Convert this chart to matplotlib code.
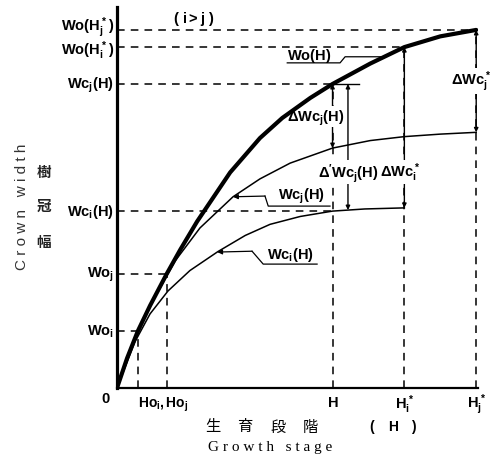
import matplotlib.pyplot as plt
import numpy as np

plt.rcParams['mathtext.fontset'] = 'custom'
plt.rcParams['mathtext.rm'] = 'Liberation Sans:bold'
plt.rcParams['mathtext.it'] = 'Liberation Sans:bold'
plt.rcParams['mathtext.bf'] = 'Liberation Sans:bold'
plt.rcParams['font.family'] = ['Liberation Sans', 'Noto Sans CJK JP', 'DejaVu Sans']

# crown width of the whole stand, Wo(H)
wo_x = [0, 2.8, 5.8, 9.2, 13.8, 17.6, 22.3, 31.5, 39.8, 46, 53.8, 60, 70.5, 80, 90, 100]
wo_y = [0, 8.3, 15.9, 23.0, 31.8, 38.6, 46.5, 60.2, 69.8, 75.4, 81.0, 84.9, 90.6, 95.2, 98.2, 100]

# crown width of species j, Wcj(H)
wcj_x = [0, 4.6, 9.2, 16.2, 23.1, 32.3, 39.8, 48.2, 60, 70.5, 80, 90, 100]
wcj_y = [0, 12.6, 22.9, 35.5, 44.7, 53.4, 58.4, 62.8, 67.0, 69.1, 70.2, 70.9, 71.4]

# crown width of species i, Wci(H)
wci_x = [0, 5, 9.2, 14.2, 20.3, 28.1, 35.7, 42.6, 51, 60, 69, 80]
wci_y = [0, 12.9, 20.7, 27.1, 32.8, 38.1, 42.6, 45.7, 47.9, 49.4, 50.0, 50.3]

# marked growth stages
h_oi, h_oj, h_now, h_i, h_j = 5.8, 13.8, 60, 80, 100
# marked crown widths
w_oi, w_oj, w_ci, w_cj, w_o_hi, w_o_hj = 15.9, 31.8, 49.4, 84.9, 95.2, 100

fig = plt.figure(figsize=(4.91, 4.60), dpi=100)
ax = fig.add_axes([117/491, 71/460, 361/491, 381/460])
ax.set_xlim(0, 100.5)
ax.set_ylim(0, 106.4)
for s in ['top', 'right']:
    ax.spines[s].set_visible(False)
ax.spines['left'].set_linewidth(2.3)
ax.spines['bottom'].set_linewidth(1.6)
ax.set_xticks([])
ax.set_yticks([])

# dashed guide lines
dash = dict(color='k', lw=1.1, dashes=(5, 4), zorder=1)
ax.plot([0, h_j], [w_o_hj, w_o_hj], **dash)
ax.plot([0, h_i], [w_o_hi, w_o_hi], **dash)
ax.plot([0, h_now], [w_cj, w_cj], **dash)
ax.plot([0, h_now], [w_ci, w_ci], **dash)
ax.plot([0, h_oj], [w_oj, w_oj], **dash)
ax.plot([0, h_oi], [w_oi, w_oi], **dash)
ax.plot([h_oi, h_oi], [0, w_oi], **dash)
ax.plot([h_oj, h_oj], [0, w_oj], **dash)
ax.plot([h_now, h_now], [0, w_cj], **dash)
ax.plot([h_i, h_i], [0, w_o_hi], **dash)
ax.plot([h_j, h_j], [0, w_o_hj], **dash)

# the three growth curves
ax.plot(wo_x, wo_y, color='k', lw=3.0, solid_capstyle='round', zorder=5)
ax.plot(wcj_x, wcj_y, color='k', lw=1.1, zorder=4)
ax.plot(wci_x, wci_y, color='k', lw=1.1, zorder=4)


def dim_arrow(x, y0, y1):
    ax.annotate('', xy=(x, y1), xytext=(x, y0), zorder=3,
                arrowprops=dict(arrowstyle='<|-|>', color='k', lw=1.0,
                                mutation_scale=6, shrinkA=0, shrinkB=0))


x2 = 64.3
dim_arrow(h_now, w_cj, np.interp(h_now, wcj_x, wcj_y))
dim_arrow(x2, w_cj, np.interp(x2, wci_x, wci_y))
dim_arrow(h_i, w_o_hi, wci_y[-1])
dim_arrow(h_j, w_o_hj, wcj_y[-1])
ax.plot([h_now, 67.5], [w_cj, w_cj], color='k', lw=1.0, zorder=3)

box = dict(facecolor='white', edgecolor='none', pad=0.6)
fs = 10.5

# labels on the W axis
left = [(w_o_hj + 0.9, r'$Wo(H_j^*)$'), (w_o_hi - 0.6, r'$Wo(H_i^*)$'), (w_cj, r'$Wc_j(H)$'),
        (w_ci, r'$Wc_i(H)$'), (w_oj, r'$Wo_j$'), (w_oi, r'$Wo_i$')]
for y, s in left:
    ax.text(-0.8, y, s, ha='right', va='center', fontsize=fs, clip_on=False)

# labels on the H axis
ax.text(-3.3, -2.8, '0', ha='center', va='center', fontsize=fs, weight='bold', clip_on=False)
ax.text(12.8, -4.3, r'$Ho_i,Ho_j$', ha='center', va='center', fontsize=fs - 0.5, clip_on=False)
ax.text(h_now, -4.0, r'$H$', ha='center', va='center', fontsize=fs, clip_on=False)
ax.text(h_i, -4.3, r'$H_i^*$', ha='center', va='center', fontsize=fs, clip_on=False)
ax.text(h_j, -4.3, r'$H_j^*$', ha='center', va='center', fontsize=fs, clip_on=False)

ax.text(21.4, 103.4, r'$(\ i>j\ )$', ha='center', va='center', fontsize=fs)

# Wo(H) label with leader to the thick curve
ax.text(47.4, 93.0, r'$Wo(H)$', ha='left', va='center', fontsize=fs, zorder=6)
ly = 92.5
ax.plot([47.4, 62.1, 63.5, np.interp(ly, wo_y, wo_x)], [90.8, 90.8, ly, ly],
        color='k', lw=0.9, zorder=6)

# difference labels
ax.text(55.4, 75.7, r'$\Delta Wc_j(H)$', ha='center', va='center', fontsize=fs,
        bbox=box, zorder=4)
ax.text(64.3, 60.3, r"$\Delta' Wc_j(H)$", ha='center', va='center', fontsize=fs,
        bbox=box, zorder=4)
ax.text(78.8, 60.3, r'$\Delta Wc_i^*$', ha='center', va='center', fontsize=fs,
        bbox=box, zorder=4)
ax.text(98.6, 85.8, r'$\Delta Wc_j^*$', ha='center', va='center', fontsize=fs,
        bbox=box, zorder=4, clip_on=False)

# Wcj(H) label, underlined, arrow to the middle curve
ax.text(51.3, 53.8, r'$Wc_j(H)$', ha='center', va='center', fontsize=fs, zorder=6)
ax.plot([59.3, 42.1, 41.2], [50.8, 50.8, 53.6], color='k', lw=0.9, zorder=6)
ax.annotate('', xy=(32.3, np.interp(32.3, wcj_x, wcj_y)), xytext=(41.2, 53.6),
            arrowprops=dict(arrowstyle='-|>', color='k', lw=0.9, mutation_scale=7,
                            shrinkA=0, shrinkB=0), zorder=6)

# Wci(H) label, underlined, arrow to the lower curve
ax.text(48.2, 37.3, r'$Wc_i(H)$', ha='center', va='center', fontsize=fs, zorder=6)
ax.plot([55.7, 40.7, 37.6], [34.6, 34.6, 38.2], color='k', lw=0.9, zorder=6)
ax.annotate('', xy=(27.9, np.interp(27.9, wci_x, wci_y)), xytext=(37.6, 38.2),
            arrowprops=dict(arrowstyle='-|>', color='k', lw=0.9, mutation_scale=7,
                            shrinkA=0, shrinkB=0), zorder=6)

# axis titles
W, Hh = 491, 460
for ch, px in zip('生育段階', [213, 245, 278, 310]):
    fig.text(px / W, 1 - 427 / Hh, ch, ha='center', va='center', fontsize=11,
             family=['Noto Sans CJK JP'])
for ch, px in zip('(H)', [372, 393, 413]):
    fig.text(px / W, 1 - 427 / Hh, ch, ha='center', va='center', fontsize=10, weight='bold')
fig.text(270 / W, 1 - 448 / Hh, 'G r o w t h   s t a g e', ha='center', va='center',
         fontsize=11, family=['Liberation Serif'])
fig.text(22 / W, 1 - 207 / Hh, 'C r o w n   w i d t h', ha='center', va='center',
         rotation=90, fontsize=11, color='#333333')
for ch, py in zip('樹冠幅', [172, 206, 242]):
    fig.text(44 / W, 1 - py / Hh, ch, ha='center', va='center', fontsize=10.5,
             family=['Noto Sans CJK JP'], weight='bold', color='#222222')

fig.savefig('out.png', dpi=100)
